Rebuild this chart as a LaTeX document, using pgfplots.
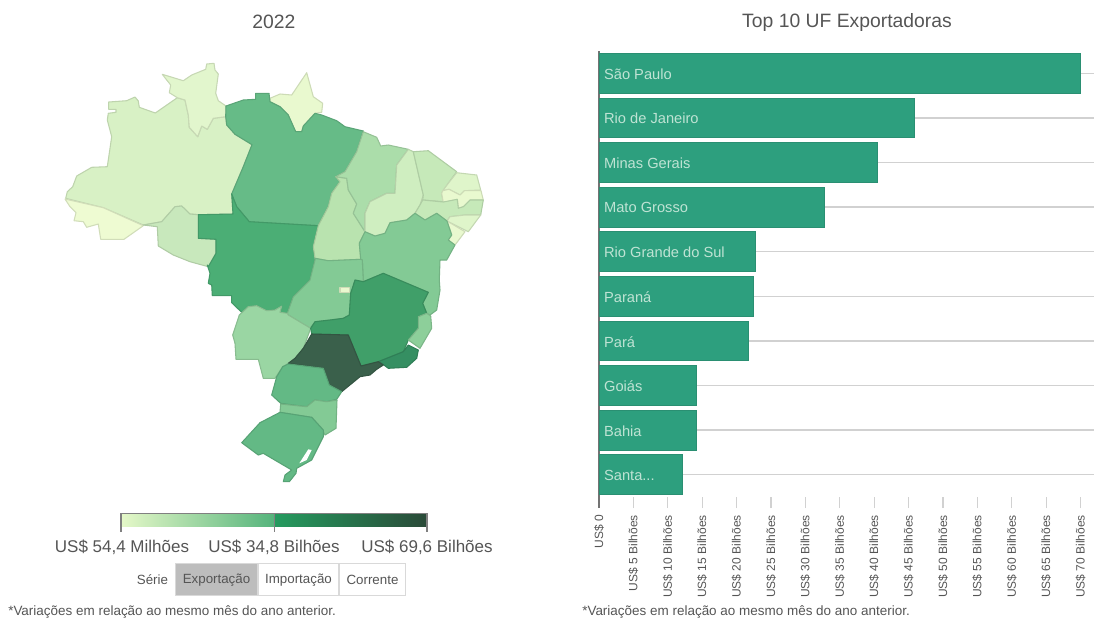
\documentclass[border=0pt]{standalone}
\usepackage{pgfplots}
\pgfplotsset{compat=1.18}
\usepackage{fontspec}
\setmainfont{Liberation Sans}

% state fills, one per export class
\definecolor{txt}{HTML}{555555}
\definecolor{cAC}{HTML}{EEFBD2}
\definecolor{cAM}{HTML}{D8F1C5}
\definecolor{cRR}{HTML}{E2F6CD}
\definecolor{cAP}{HTML}{E9F9CF}
\definecolor{cPA}{HTML}{66BB87}
\definecolor{cMT}{HTML}{4BAE75}
\definecolor{cRO}{HTML}{C8E8BC}
\definecolor{cTO}{HTML}{B9E3AF}
\definecolor{cMA}{HTML}{ABDDAA}
\definecolor{cPI}{HTML}{CFEEC0}
\definecolor{cCE}{HTML}{C6E9B9}
\definecolor{cRN}{HTML}{DFF5CA}
\definecolor{cPB}{HTML}{E9F9CF}
\definecolor{cPE}{HTML}{C6E9B9}
\definecolor{cAL}{HTML}{DFF5CA}
\definecolor{cSE}{HTML}{E9F9CF}
\definecolor{cBA}{HTML}{83CA95}
\definecolor{cGO}{HTML}{83CA95}
\definecolor{cDF}{HTML}{E9F9CF}
\definecolor{cMG}{HTML}{409F69}
\definecolor{cES}{HTML}{8DCF9A}
\definecolor{cRJ}{HTML}{358F62}
\definecolor{cSP}{HTML}{3A604B}
\definecolor{cPR}{HTML}{63B985}
\definecolor{cSC}{HTML}{83CA95}
\definecolor{cRS}{HTML}{63B985}
\definecolor{cMS}{HTML}{9AD6A3}
\definecolor{barfill}{HTML}{2D9F7E}
\definecolor{barline}{HTML}{2A8F72}
\definecolor{barlabel}{HTML}{BFE3D4}
\definecolor{scaleA}{HTML}{E5F8C8}
\definecolor{scaleB}{HTML}{55B47C}
\definecolor{scaleC}{HTML}{259B5F}
\definecolor{scaleD}{HTML}{2A4A38}

\tikzset{uf/.style={draw=#1!88!black, fill=#1, line width=0.8pt, line join=round}}
\newcommand{\bl}[2]{\node[anchor=west, inner sep=0pt, yshift=-0.6pt, font=\fontsize{11pt}{13pt}\selectfont\color{barlabel}] at (axis cs:0.7,#1) {#2};}

\begin{document}
\begin{tikzpicture}[font=\color{txt}]
\path[use as bounding box] (0,0) rectangle (820.5pt,464.25pt);

% map and everything else on the left, in page pixels
\begin{axis}[
    at={(0,0)}, anchor=south west,
    scale only axis, width=820.5pt, height=464.25pt,
    xmin=0, xmax=1094, ymin=0, ymax=619, y dir=reverse,
    axis lines=none, clip=false,
]
\addplot[uf=cAM] coordinates {(108.7,102) (126.7,100.7) (135,97) (138.3,101) (139.3,107.3) (155.3,113) (177.3,97.7) (185,100) (188.3,115) (189.3,127.3) (197.7,136.7) (201.7,126) (207.3,129.3) (213.3,118.3) (225.7,116.7) (226.7,125) (235,134.3) (252,144.7) (243.3,166.7) (231.7,194) (233,214) (198.3,214.7) (190,214) (181.7,206) (175,206.7) (161.7,221.7) (143.3,225) (103.3,207.7) (65.7,198.3) (67.3,191.7) (72.7,186.7) (76.7,176) (91.7,167.3) (107.3,166.7) (111.7,136.7) (107.3,120) (108.3,113.3) (116,112.3) (116,109.3) (108.7,109.3)} -- cycle;
\addplot[uf=cAC] coordinates {(65,199) (70,206.7) (76,212.7) (74,220.7) (83.3,221.7) (86.7,227.3) (98.3,224) (100.7,239.3) (124,239.3) (143.3,225.7) (103.3,207.7)} -- cycle;
\addplot[uf=cRR] coordinates {(162.3,74.3) (183.3,80.7) (191.7,75) (205.7,69.3) (206.7,64) (214,63.3) (215,70) (218.3,74) (215.7,93.3) (218.3,100.7) (226,106) (225.7,116.7) (213.3,118.3) (207.3,129.3) (201.7,126) (197.7,136.7) (189.3,127.3) (188.3,115) (185,100) (177.3,97.7) (169.3,92.7) (170.7,85) (166.7,80)} -- cycle;
\addplot[uf=cAP] coordinates {(270,98.3) (280,94) (291.7,95) (306.7,72.7) (313.3,96.7) (322.7,103.3) (321.7,112.3) (315,113.3) (303.3,126) (301.7,131.7) (295.7,131.7) (288.3,115) (280,106.7) (270,101.7)} -- cycle;
\addplot[uf=cRO] coordinates {(143.3,225) (161.7,221.7) (175,206.7) (181.7,206) (190,214) (198.3,214.7) (198.3,238.3) (216,239.3) (216,253.3) (208.3,266.7) (190,261.7) (173.3,255) (158.3,246) (157.3,226.7)} -- cycle;
\addplot[uf=cPA] coordinates {(226,106) (243.3,100) (255.7,99.3) (255.7,93.3) (269,93.3) (270,101.7) (280,106.7) (288.3,115) (295.7,131.7) (301.7,131.7) (303.3,126) (315,113.3) (321.7,115) (336.7,120.7) (345,126.7) (363.3,131) (356.7,151.7) (345,171.7) (335.7,176.7) (340,181.7) (331.7,193.3) (328.3,206.7) (318.3,225.7) (249.3,221.7) (236.7,206.7) (231.7,194) (243.3,166.7) (252,144.7) (235,134.3) (226.7,125) (225.7,116.7)} -- cycle;
\addplot[uf=cMT] coordinates {(198.3,214.7) (233,214) (231.7,194) (236.7,206.7) (249.3,221.7) (318.3,225.7) (313.3,247) (315,258.3) (315,260) (310,280) (300,290) (293.3,296.7) (287.3,313.3) (280,312.3) (281.7,306) (275,310) (266.7,310.7) (256.7,305.7) (250,306.7) (241.7,312.3) (231.7,302.7) (231.7,295.7) (212.3,295.7) (211.7,285) (208.3,283.3) (210,273.3) (207.3,265) (208.3,266.7) (216,253.3) (216,239.3) (198.3,238.3)} -- cycle;
\addplot[uf=cTO] coordinates {(335.7,176.7) (346.7,178.3) (348.3,190) (356.7,204) (353.3,213.3) (365,231.7) (359.3,243.3) (360.7,259.3) (328.3,260.7) (315,258.3) (313.3,246.7) (318.3,225.7) (328.3,206.7) (331.7,193.3) (340,181.7)} -- cycle;
\addplot[uf=cMA] coordinates {(363.3,131.7) (376.7,137.3) (380.7,146) (388.3,145) (408.3,149.3) (396.7,165) (395,193.3) (386.7,193.3) (370,201.7) (365,213.3) (365,231.7) (353.3,213.3) (356.7,204) (348.3,190) (346.7,178.3) (335.7,176.7) (345,171.7) (356.7,151.7)} -- cycle;
\addplot[uf=cPI] coordinates {(408.3,149.3) (413.3,151.7) (418.3,173.3) (423.3,195) (420,205) (415,213.3) (406.7,220) (390,222.7) (385,233.3) (375,236) (365,231.7) (365,213.3) (370,201.7) (386.7,193.3) (395,193.3) (396.7,165)} -- cycle;
\addplot[uf=cCE] coordinates {(413.3,151.7) (428.3,150.7) (456.7,171.7) (448.3,183.3) (441.7,193.3) (443.3,201.7) (422.7,200) (423.3,195) (418.3,173.3)} -- cycle;
\addplot[uf=cRN] coordinates {(456.7,172.7) (476.7,175) (480.7,190) (464.3,190.7) (460,195) (449,189.3) (442.7,190.7) (448.3,183.3)} -- cycle;
\addplot[uf=cPB] coordinates {(442.7,190.7) (449,189.3) (460,195) (464.3,190.7) (481,190.7) (483.3,200) (470,200) (463.3,206.7) (458.3,208.3) (457.3,199.3) (443.3,202.7) (441.7,193.3)} -- cycle;
\addplot[uf=cPE] coordinates {(422.7,200) (443.3,202) (457.3,199.3) (458.3,208.3) (463.3,206.7) (470,200) (483.3,200) (480.7,215) (465,215) (450,216.7) (447,221) (436.7,213.3) (425,220) (415,213.3) (420,205)} -- cycle;
\addplot[uf=cAL] coordinates {(450,216.7) (465,215) (480.7,215) (468.3,231.7) (447,221)} -- cycle;
\addplot[uf=cSE] coordinates {(447,221) (465,231.7) (455,245) (448.3,240) (451.7,235)} -- cycle;
\addplot[uf=cBA] coordinates {(359.3,243.3) (365,231.7) (375,236) (385,233.3) (390,222.7) (406.7,220) (415,213.3) (425,220) (436.7,213.3) (447,221) (451.7,235) (448.3,240) (455,245) (446.7,260) (440,260) (439.3,280) (440,290) (436.7,310) (430,315) (426.7,313.3) (422.7,303.3) (428.3,292.3) (383.3,273.3) (363.3,281.7) (362.3,260) (360.7,259.3)} -- cycle;
\addplot[uf=cGO] coordinates {(315,258.3) (328.3,260.7) (360.7,259.3) (362.3,260) (363.3,281.7) (355,280) (350.7,293.3) (349.3,315) (343.3,318.3) (330,320) (315,321.7) (310,328.3) (288.3,315) (287.3,313.3) (293.3,296.7) (300,290) (310,280) (315,260)} -- cycle;
\addplot[uf=cDF] coordinates {(340,287.3) (349.3,287.3) (349.3,292.3) (340,292.3)} -- cycle;
\addplot[uf=cMS] coordinates {(239.3,315) (248.3,306.7) (256.7,305.7) (266.7,310.7) (275,310) (281.7,306) (280,312.3) (287.3,313.3) (288.3,315) (310.7,328.3) (303.3,348.3) (295,358.3) (288.3,363.3) (282.7,366.7) (275,378.3) (263.3,378.3) (258.3,359.3) (236,359.3) (235,343.3) (232.7,335)} -- cycle;
\addplot[uf=cMG] coordinates {(383.3,273.3) (428.3,292.3) (422.7,303.3) (426.7,313.3) (418.3,316.7) (418.3,328.3) (408.3,340) (403.3,351.7) (378.3,361.7) (361,366) (348.3,335) (311.7,334) (310.7,328.3) (315,321.7) (330,320) (343.3,318.3) (349.3,315) (350.7,293.3) (355,280) (363.3,281.7)} -- cycle;
\addplot[uf=cES] coordinates {(426.7,313.3) (430.7,316) (431.7,328.3) (420,348.3) (408.3,340) (418.3,328.3) (418.3,316.7)} -- cycle;
\addplot[uf=cRJ] coordinates {(408.3,345) (418.3,350) (416.7,358.3) (406.7,367.3) (388.3,368.3) (381.7,363.3) (378.3,361.7) (403.3,351.7)} -- cycle;
\addplot[uf=cSP] coordinates {(311.7,334) (348.3,335) (361,366) (378.3,361.7) (383.3,365) (376.7,369.3) (370,375) (360,376.7) (341.7,391.7) (329.3,385) (323.3,368.3) (288.3,363.3) (295,358.3) (303.3,348.3)} -- cycle;
\addplot[uf=cPR] coordinates {(288.3,364) (323.3,368.3) (329.3,385) (341.7,391.7) (336.7,399.3) (326.7,401.7) (315,400) (306.7,406.7) (280.7,403.3) (271.7,395) (276.7,376.7) (282.7,366.7)} -- cycle;
\addplot[uf=cSC] coordinates {(280.7,404) (306.7,406.7) (315,400) (326.7,401.7) (337,400) (336,428.3) (325,435) (321.7,428.3) (311.7,417.3) (280,412.3)} -- cycle;
\addplot[uf=cRS] coordinates {(280,412.3) (311.7,417.3) (323.3,430) (323.3,436.7) (316.7,450) (311.7,460) (296.7,468.3) (296,473.3) (289.3,481.7) (283.3,481.7) (285,475) (291.7,470) (263.3,453.3) (258.3,455) (241.7,442.7) (260,422.7)} -- cycle;
\addplot[draw=none, fill=white] coordinates {(308.3,449.3) (311.7,450) (306.7,460) (299.3,463.3)} -- cycle;

% titles
\node[font=\fontsize{14.5pt}{16pt}\selectfont\color{txt}] at (axis cs:274,22) {2022};
\node[font=\fontsize{14.5pt}{16pt}\selectfont\color{txt}] at (axis cs:847,22) {Top 10 UF Exportadoras};

% colour scale
\fill[left color=scaleA, right color=scaleB] (axis cs:121,514) rectangle (axis cs:274,526.5);
\fill[left color=scaleC, right color=scaleD] (axis cs:274,514) rectangle (axis cs:427,526.5);
\draw[black!50, line width=0.8pt] (axis cs:121,532) -- (axis cs:121,513.5) -- (axis cs:427,513.5) -- (axis cs:427,532);
\draw[black!50, line width=0.8pt] (axis cs:274.5,513.5) -- (axis cs:274.5,532);
\node[font=\fontsize{12.75pt}{14pt}\selectfont\color{txt}] at (axis cs:122,547) {US\$ 54,4 Milhões};
\node[font=\fontsize{12.75pt}{14pt}\selectfont\color{txt}] at (axis cs:274,547) {US\$ 34,8 Bilhões};
\node[font=\fontsize{12.75pt}{14pt}\selectfont\color{txt}] at (axis cs:427,547) {US\$ 69,6 Bilhões};

% series buttons
\draw[black!15, fill=black!26, line width=0.8pt] (axis cs:175.5,563.5) rectangle (axis cs:258,595.5);
\draw[black!15, fill=white, line width=0.8pt] (axis cs:258,563.5) rectangle (axis cs:339,595.5);
\draw[black!15, fill=white, line width=0.8pt] (axis cs:339,563.5) rectangle (axis cs:405.5,595.5);
\node[font=\fontsize{10pt}{12pt}\selectfont\color{txt}] at (axis cs:152.5,580) {Série};
\node[font=\fontsize{10pt}{12pt}\selectfont\color{txt}] at (axis cs:216.5,580) {Exportação};
\node[font=\fontsize{10pt}{12pt}\selectfont\color{txt}] at (axis cs:298.5,580) {Importação};
\node[font=\fontsize{10pt}{12pt}\selectfont\color{txt}] at (axis cs:372.5,580) {Corrente};

% footnotes
\node[anchor=west, inner sep=0pt, font=\fontsize{10.1pt}{12pt}\selectfont\color{txt}] at (axis cs:8,612.5) {*Variações em relação ao mesmo mês do ano anterior.};
\node[anchor=west, inner sep=0pt, font=\fontsize{10.1pt}{12pt}\selectfont\color{txt}] at (axis cs:582,612.5) {*Variações em relação ao mesmo mês do ano anterior.};
\end{axis}

% top 10 exporters
\begin{axis}[
    at={(449.25pt,91.5pt)}, anchor=south west,
    scale only axis, width=371.25pt, height=334.5pt,
    xmin=0, xmax=71.95, ymin=-0.5, ymax=9.5, y dir=reverse,
    xbar, bar width=29.8pt, bar shift=0pt,
    separate axis lines,
    y axis line style={draw=black!55, line width=0.8pt},
    x axis line style={draw=none},
    axis x line*=bottom, axis y line*=left,
    xtick={0,5,10,15,20,25,30,35,40,45,50,55,60,65,70},
    xticklabels={US\$ 0,US\$ 5 Bilhões,US\$ 10 Bilhões,US\$ 15 Bilhões,US\$ 20 Bilhões,US\$ 25 Bilhões,US\$ 30 Bilhões,US\$ 35 Bilhões,US\$ 40 Bilhões,US\$ 45 Bilhões,US\$ 50 Bilhões,US\$ 55 Bilhões,US\$ 60 Bilhões,US\$ 65 Bilhões,US\$ 70 Bilhões},
    xticklabel style={rotate=90, anchor=east, font=\fontsize{9pt}{10pt}\selectfont\color{txt}, inner xsep=0pt, xshift=-5.2pt},
    xtick style={draw=black!18, line width=1pt},
    major tick length=8.25pt, tick align=outside,
    ytick={0,1,2,3,4,5,6,7,8,9}, yticklabels={},
    major y tick style={draw=none},
    ymajorgrids, y grid style={black!18, line width=1pt},
    clip=false,
]
\addplot[fill=barfill, draw=barline, line width=0.6pt] coordinates {(69.9,0) (45.8,1) (40.5,2) (32.7,3) (22.7,4) (22.4,5) (21.7,6) (14.2,7) (14.1,8) (12.1,9)};
\draw[black!55, line width=0.8pt] (axis cs:0,9.5) -- (axis cs:0,9.75);
\bl{0}{São Paulo}
\bl{1}{Rio de Janeiro}
\bl{2}{Minas Gerais}
\bl{3}{Mato Grosso}
\bl{4}{Rio Grande do Sul}
\bl{5}{Paraná}
\bl{6}{Pará}
\bl{7}{Goiás}
\bl{8}{Bahia}
\bl{9}{Santa...}
\end{axis}
\end{tikzpicture}
\end{document}
